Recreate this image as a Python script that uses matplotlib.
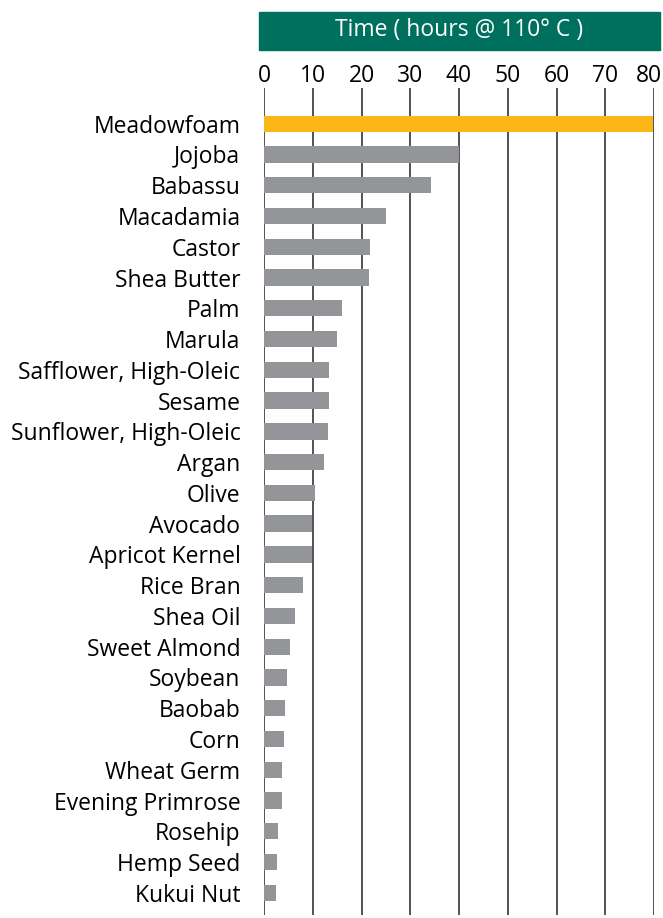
import numpy as np
import matplotlib.pyplot as plt
import matplotlib.transforms as mtransforms
from matplotlib.patches import Rectangle

plt.rcParams['font.family'] = ['Open Sans', 'DejaVu Sans']

oils = ['Meadowfoam', 'Jojoba', 'Babassu', 'Macadamia', 'Castor', 'Shea Butter',
        'Palm', 'Marula', 'Safflower, High-Oleic', 'Sesame', 'Sunflower, High-Oleic',
        'Argan', 'Olive', 'Avocado', 'Apricot Kernel', 'Rice Bran', 'Shea Oil',
        'Sweet Almond', 'Soybean', 'Baobab', 'Corn', 'Wheat Germ', 'Evening Primrose',
        'Rosehip', 'Hemp Seed', 'Kukui Nut']
hours = [79.7, 40.0, 34.3, 25.0, 21.8, 21.6, 16.0, 15.0, 13.3, 13.3, 13.1, 12.3,
         10.5, 9.9, 9.9, 8.0, 6.4, 5.3, 4.7, 4.3, 4.1, 3.7, 3.7, 2.9, 2.7, 2.5]
ticks = [0, 10, 20, 30, 40, 50, 60, 70, 80]

W, H = 663, 918
fig = plt.figure(figsize=(W / 100, H / 100), dpi=100)

# axes in pixel terms: x 264..654, y 88..915
left, right, top, bottom = 264, 654, 88, 915
ax = fig.add_axes([left / W, 1 - bottom / H, (right - left) / W, (bottom - top) / H])

y = np.arange(len(oils))
colors = ['#FDB618'] + ['#939598'] * (len(oils) - 1)
for t in ticks:
    ax.axvline(t, color='#444444', lw=1.3, zorder=0)
ax.barh(y, hours, height=0.53, color=colors, zorder=2)

ax.set_xlim(0, 80)
ax.set_ylim(len(oils) - 1 + 0.72, -1.16)
ax.set_yticks(y)
ax.set_yticklabels(oils, fontsize=16.5)
ax.set_xticks(ticks)
ax.xaxis.tick_top()
ax.tick_params(axis='x', length=0, pad=0, labelsize=16.5)
ax.tick_params(axis='y', length=0, pad=17)
for s in ax.spines.values():
    s.set_visible(False)

# keep the "80" label inside the figure
last = ax.get_xticklabels()[-1]
last.set_transform(last.get_transform() +
                   mtransforms.ScaledTranslation(-5 / 100, 0, fig.dpi_scale_trans))

# green header box
fig.patches.append(Rectangle((259 / W, 1 - 50 / H), (660 - 259) / W, 38 / H,
                             transform=fig.transFigure, color='#00705E'))
fig.text((259 + 660) / 2 / W, 1 - 30 / H, 'Time ( hours @ 110° C )', color='white',
         ha='center', va='center', fontsize=16.5)

fig.savefig('out.png', dpi=100)
